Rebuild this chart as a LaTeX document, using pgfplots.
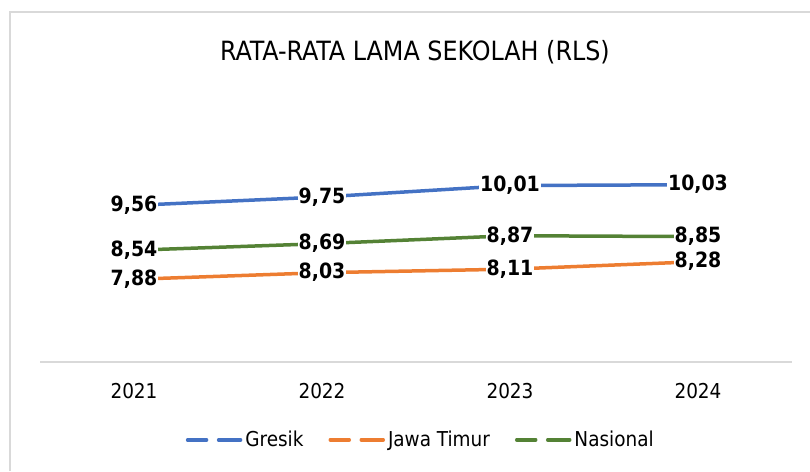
\documentclass[border=0pt]{standalone}
\usepackage{pgfplots}
\pgfplotsset{compat=1.18}
\usepackage{pgfplotstable}
\usepackage{fontspec}
\setmainfont{DejaVu Sans Condensed}
\definecolor{cblue}{HTML}{4472C4}
\definecolor{corange}{HTML}{ED7D31}
\definecolor{cgreen}{HTML}{548235}
\definecolor{cgrid}{HTML}{D9D9D9}

\pgfplotstableread{
x gresik jatim nasional
0 9.56 7.88 8.54
1 9.75 8.03 8.69
2 10.01 8.11 8.87
3 10.03 8.28 8.85
}\datatable

\begin{document}
\begin{tikzpicture}[x=1pt,y=1pt]
\useasboundingbox (0,0) rectangle (810,471);
\draw[cgrid, line width=1.5pt] (10,0) -- (10,459) -- (810,459);
\node[font=\fontsize{26.5}{30}\selectfont, anchor=base] at (415,410) {RATA-RATA LAMA SEKOLAH (RLS)};
\begin{axis}[
  at={(40pt,109pt)}, anchor=south west,
  scale only axis, width=752pt, height=264pt,
  xmin=-0.5, xmax=3.5, ymin=6, ymax=12,
  axis x line*=bottom, axis y line=none,
  x axis line style={-, draw=cgrid, line width=1.5pt},
  xtick={0,1,2,3}, xticklabels={2021,2022,2023,2024},
  ytick=\empty, major tick length=0pt,
  xticklabel style={font=\fontsize{20.5}{24}\selectfont, anchor=center, yshift=-29pt},
  clip=false,
  point meta=y,
  nodes near coords={\pgfmathprintnumber[fixed,fixed zerofill,precision=2,use comma,assume math mode=true]{\pgfplotspointmeta}},
  every node near coord/.append style={anchor=center, fill=white, inner sep=1pt, text=black, font=\fontsize{21}{24}\selectfont\bfseries},
  legend columns=3,
  legend style={at={(0.507,-0.295)}, anchor=center, draw=none, fill=none,
    font=\fontsize{20.5}{24}\selectfont,
    /tikz/every even column/.append style={column sep=22pt},
    inner sep=0pt, nodes={inner sep=3pt}},
  legend image code/.code={
    \draw[#1, line cap=round] (0pt,0pt) -- (19pt,0pt);
    \draw[#1, line cap=round] (31pt,0pt) -- (53pt,0pt);
  },
  every axis plot/.append style={line width=3.5pt, mark=none},
]
\addplot[cblue] table[x=x,y=gresik]{\datatable};
\addlegendentry{Gresik}
\addplot[corange] table[x=x,y=jatim]{\datatable};
\addlegendentry{Jawa Timur}
\addplot[cgreen] table[x=x,y=nasional]{\datatable};
\addlegendentry{Nasional}
\end{axis}
\end{tikzpicture}
\end{document}
